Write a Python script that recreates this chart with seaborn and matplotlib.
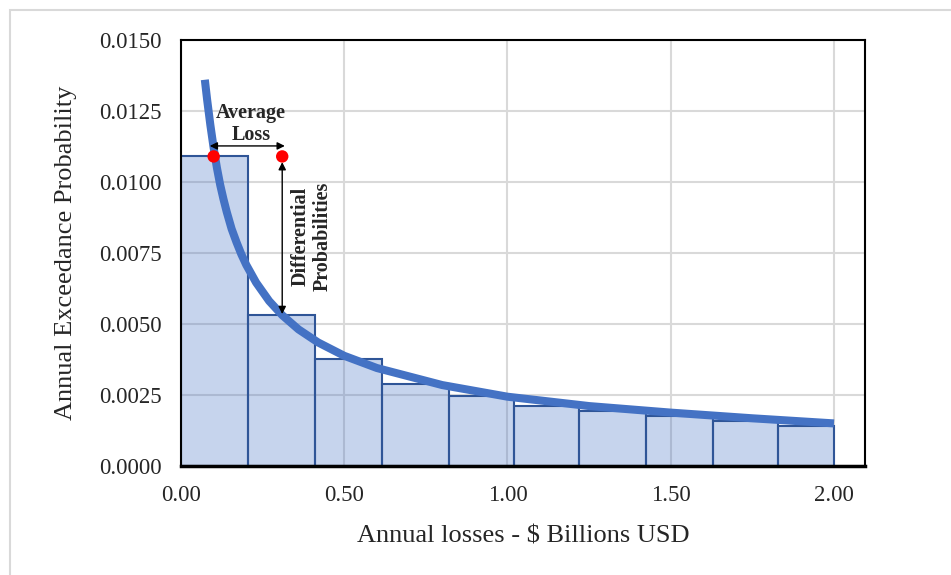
import numpy as np
import pandas as pd
import matplotlib
matplotlib.use("Agg")
import matplotlib.pyplot as plt
from matplotlib.patches import Rectangle
import seaborn as sns

# ── data ──────────────────────────────────────────────────────────────────────
bin_edges = [0.0, 0.205, 0.41, 0.615, 0.82, 1.02, 1.22, 1.425, 1.63, 1.83, 2.0]
bar_heights = [0.0109, 0.00532, 0.00377, 0.00290, 0.00245,
               0.00213, 0.00192, 0.00175, 0.00157, 0.00142]

curve_x = [0.073, 0.08, 0.09, 0.10, 0.11, 0.12, 0.13, 0.14, 0.155, 0.17,
           0.185, 0.20, 0.23, 0.27, 0.31, 0.36, 0.42, 0.50, 0.60, 0.80,
           1.00, 1.25, 1.50, 1.75, 2.00]
curve_y = [0.0136, 0.0129, 0.0120, 0.0112, 0.0105, 0.0099, 0.0094,
           0.00895, 0.00835, 0.00788, 0.00745, 0.00708, 0.00646, 0.00581,
           0.00531, 0.00481, 0.00435, 0.00388, 0.00345, 0.00285, 0.00244,
           0.00211, 0.00188, 0.00168, 0.00150]

dot_x = [0.10, 0.31]
dot_y = [0.0109, 0.0109]

x_ticks = [0.0, 0.5, 1.0, 1.5, 2.0]
y_ticks = [0.0, 0.0025, 0.005, 0.0075, 0.01, 0.0125, 0.015]

# ── style ─────────────────────────────────────────────────────────────────────
sns.set_style("white")
plt.rcParams["font.family"] = ["Liberation Serif", "DejaVu Serif"]

fig = plt.figure(figsize=(9.51, 5.75), dpi=100)
ax = fig.add_axes([181 / 951, 109 / 575, 684 / 951, 426 / 575])

# chart-area border (light gray)
fig.patches.append(Rectangle((10 / 951, -0.1), 1.2, 1.1 - 10 / 575,
                             transform=fig.transFigure, fill=False,
                             edgecolor="#d9d9d9", linewidth=1.5, zorder=0))

bars = pd.DataFrame({
    "mid": [(a + b) / 2 for a, b in zip(bin_edges[:-1], bin_edges[1:])],
    "h": bar_heights,
})
sns.histplot(data=bars, x="mid", weights="h", bins=bin_edges, ax=ax,
             color="#4472C4", alpha=0.3, edgecolor="#2F5597", linewidth=1.5,
             zorder=2)

curve = pd.DataFrame({"x": curve_x, "y": curve_y})
sns.lineplot(data=curve, x="x", y="y", ax=ax, color="#4472C4",
             linewidth=5.8, sort=False, zorder=3,
             solid_capstyle="butt", solid_joinstyle="round")

dots = pd.DataFrame({"x": dot_x, "y": dot_y})
sns.scatterplot(data=dots, x="x", y="y", ax=ax, color="#FF0000", s=80,
                edgecolor="none", zorder=5)

# annotations
ax.annotate("", xy=(0.088, 0.01127), xytext=(0.318, 0.01127),
            arrowprops=dict(arrowstyle="<|-|>", color="black", lw=1,
                            mutation_scale=11, shrinkA=0, shrinkB=0), zorder=6)
ax.annotate("", xy=(0.31, 0.0107), xytext=(0.31, 0.00535),
            arrowprops=dict(arrowstyle="<|-|>", color="black", lw=1,
                            mutation_scale=11, shrinkA=0, shrinkB=0), zorder=6)
ax.text(0.215, 0.01205, "Average\nLoss", ha="center", va="center",
        fontsize=14.5, fontweight="bold", linespacing=1.15, zorder=6)
ax.text(0.40, 0.0081, "Differential\nProbabilities", ha="center",
        va="center", rotation=90, fontsize=14.5, fontweight="bold",
        linespacing=1.15, zorder=6)

ax.set_xlim(0, 2.095)
ax.set_ylim(0, 0.015)
ax.set_xticks(x_ticks)
ax.set_yticks(y_ticks)
ax.set_xticklabels([f"{v:.2f}" for v in x_ticks])
ax.set_yticklabels([f"{v:.4f}" for v in y_ticks])
ax.tick_params(axis="both", labelsize=16.5, length=0)
ax.tick_params(axis="x", pad=14)
ax.tick_params(axis="y", pad=14)
ax.grid(True, color="#d9d9d9", linewidth=1.5, zorder=0)
ax.set_axisbelow(True)

for side in ["top", "right", "left"]:
    ax.spines[side].set_visible(True)
    ax.spines[side].set_color("black")
    ax.spines[side].set_linewidth(1.5)
ax.spines["bottom"].set_color("black")
ax.spines["bottom"].set_linewidth(2.5)
ax.spines["bottom"].set_zorder(7)

ax.set_xlabel("Annual losses - $ Billions USD", fontsize=19, labelpad=14)
ax.set_ylabel("Annual Exceedance Probability", fontsize=19, labelpad=16)

fig.savefig("out.png", dpi=100)
